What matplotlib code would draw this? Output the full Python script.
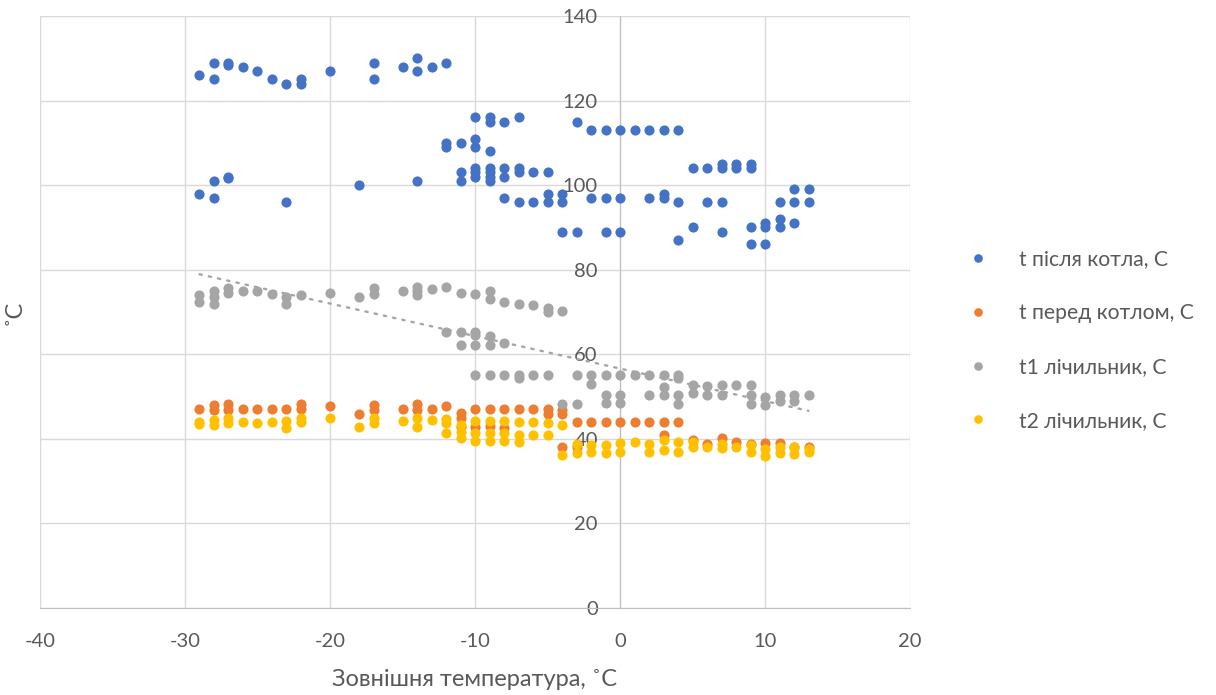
import matplotlib
matplotlib.use('Agg')
import matplotlib.pyplot as plt
import numpy as np

plt.rcParams['font.family'] = ['Lato', 'DejaVu Sans']
plt.rcParams['axes.unicode_minus'] = False

# t після котла
blue_x = [-29, -29, -28, -28, -28, -28, -27, -27, -27, -27, -26, -25, -24, -23, -23, -22, -22,
          -20, -18, -17, -17, -15, -14, -14, -14, -13, -12, -12, -12, -11, -11, -11,
          -10, -10, -10, -10, -10, -10, -9, -9, -9, -9, -9, -9, -9, -8, -8, -8, -8,
          -7, -7, -7, -7, -6, -6, -5, -5, -5, -4, -4, -4, -3, -3, -2, -2, -1, -1, -1,
          0, 0, 0, 1, 2, 2, 3, 3, 3, 4, 4, 4, 5, 5, 6, 6, 7, 7, 7, 7, 8, 8,
          9, 9, 9, 9, 10, 10, 10, 11, 11, 11, 12, 12, 12, 13, 13]
blue_y = [126, 98, 129, 125, 101, 97, 129, 128.5, 102, 101.7, 128, 127, 125, 124, 96, 125, 124,
          127, 100, 129, 125, 128, 130, 127, 101, 128, 129, 110, 109, 110, 103, 101,
          116, 111, 109, 104, 103, 102, 116, 115, 108, 104, 103, 102, 101, 115, 104, 102, 97,
          116, 104, 103, 96, 103, 96, 103, 98, 96, 98, 96, 89, 115, 89, 113, 97, 113, 97, 89,
          113, 97, 89, 113, 113, 97, 113, 98, 97, 113, 96, 87, 104, 90, 104, 96, 105, 104, 96, 89, 105, 104,
          105, 104, 90, 86, 91, 90, 86, 96, 92, 90, 99, 96, 91, 99, 96]

# t перед котлом
orange_x = [-29, -28, -28, -27, -27, -26, -25, -24, -23, -22, -22, -20, -18, -17, -17, -15,
            -14, -14, -13, -12, -11, -11, -11, -10, -10, -9, -9, -8, -8, -7, -6, -5, -5,
            -4, -4, -4, -3, -3, -2, -1, 0, 1, 2, 3, 3, 4, 5, 6, 7, 8, 9, 10, 11, 12, 13]
orange_y = [47, 48, 46.8, 48.2, 46.8, 47, 47, 47, 47, 48.2, 47, 47.8, 45.8, 48, 46.8, 47,
            48.2, 46.8, 47, 47.8, 46, 44.9, 42.9, 47, 42.9, 47, 43, 47, 42.5, 47, 47, 47, 45.8,
            46.8, 45.8, 38.1, 43.9, 38.1, 44, 44, 44, 44, 44, 44, 41, 44, 39.7, 38.9, 40.1, 39.2, 38.7, 39, 39, 38.1, 38.1]

# t1 лічильник
gray_x = [-29, -29, -28, -28, -28, -27, -27, -26, -25, -24, -23, -23, -22, -20, -18, -17, -17,
          -15, -14, -14, -14, -13, -12, -11, -10, -9, -9, -8, -7, -6, -5, -5, -4,
          -12, -11, -11, -10, -10, -10, -9, -9, -8,
          -10, -9, -8, -7, -7, -6, -5, -4, -3, -3, -2, -2, -1, -1, -1, 0, 0, 0, 1, 2, 2,
          3, 3, 3, 4, 4, 4, 4, 5, 5, 6, 6, 7, 7, 8, 9, 9, 9, 10, 10, 11, 11, 12, 12, 13]
gray_y = [74, 72.3, 75, 73.6, 71.8, 75.6, 74.6, 75, 75, 74.2, 73.6, 71.8, 74, 74.6, 73.6, 75.6, 74.2,
          75, 76, 75, 74, 75.5, 76, 74.5, 74.3, 75, 73, 72.4, 72, 71.7, 70.9, 70, 70.2,
          65.3, 65.3, 62.2, 65.3, 64.5, 62.2, 64.3, 62.2, 62.6,
          55.1, 55, 55, 55, 54.5, 55, 55, 48.2, 48.2, 55, 55, 53, 55, 50.4, 48.4, 55, 50.4, 48.4, 55, 55, 50.4,
          55, 52.2, 50.4, 55, 54.5, 50.4, 48.2, 52.7, 50.8, 52.5, 50.4, 52.7, 50.4, 52.7, 52.7, 50.4, 48.2,
          50, 48, 50.4, 49, 50.4, 49, 50.4]

# t2 лічильник
yellow_x = [-29, -29, -28, -28, -27, -27, -26, -25, -24, -23, -23, -22, -22, -20, -18, -17, -17,
            -15, -14, -14, -13, -12, -12, -12, -11, -11, -11, -10, -10, -10, -9, -9, -9,
            -8, -8, -8, -7, -7, -7, -6, -6, -5, -5, -4, -4, -3, -3, -2, -2, -1, -1,
            0, 0, 1, 2, 2, 3, 3, 4, 4, 5, 5, 6, 7, 7, 8, 9, 9, 10, 10, 11, 11, 12, 12, 13, 13]
yellow_y = [44.1, 43.5, 44.5, 43.3, 44.9, 43.7, 43.9, 43.7, 44, 44.2, 42.6, 44.9, 44.1, 44.9, 42.7, 44.9, 43.7,
            44.2, 44.9, 42.9, 44.5, 44.7, 43.7, 41.3, 43.3, 41.7, 40.1, 44.2, 41.3, 39.6, 44.2, 41.3, 39.6,
            44.2, 41.3, 39.6, 43.9, 40.9, 39.3, 44, 41, 43.7, 40.9, 43.3, 36.2, 38.9, 36.6, 38.5, 36.8, 38.5, 36.6,
            39, 37, 39.2, 38.9, 37, 39.7, 37.4, 39.3, 37, 39.3, 38, 38, 38.9, 37.8, 38, 38.5, 36.8, 37.6, 36,
            38, 36.6, 38, 36.4, 37.6, 36.8]

series = [
    (blue_x, blue_y, '#4472C4', 't після котла, C'),
    (orange_x, orange_y, '#ED7D31', 't перед котлом, C'),
    (gray_x, gray_y, '#A5A5A5', 't1 лічильник, C'),
    (yellow_x, yellow_y, '#FFC000', 't2 лічильник, C'),
]

txt = '#595959'
fig = plt.figure(figsize=(12.16, 6.95), dpi=100)
ax = fig.add_axes([40 / 1216, 87 / 695, 870 / 1216, 592 / 695])

for xs, ys, col, lab in series:
    ax.plot(xs, ys, 'o', color=col, markersize=7.3, markeredgewidth=0, label=lab, zorder=3)

# лінійний тренд для t1
k, b = np.polyfit(gray_x, gray_y, 1)
tx = np.array([min(gray_x), max(gray_x)])
ax.plot(tx, k * tx + b, color='#A5A5A5', lw=1.7, linestyle=(0, (1, 3)),
        dash_capstyle='round', zorder=4)

ax.set_xlim(-40, 20)
ax.set_ylim(0, 140)
ax.set_xticks(range(-40, 21, 10))
ax.set_yticks(range(0, 141, 20))
ax.grid(True, color='#D9D9D9', lw=1)
ax.set_axisbelow(True)

for s in ['top', 'right']:
    ax.spines[s].set_visible(False)
ax.spines['left'].set_position(('data', 0))
ax.spines['left'].set_color('#BFBFBF')
ax.spines['bottom'].set_color('#BFBFBF')
ax.spines['left'].set_zorder(2)
ax.tick_params(length=0, labelsize=14.5, labelcolor=txt)
ax.tick_params(axis='x', pad=18)
ax.tick_params(axis='y', pad=16)

fig.text(475 / 1216, 1 - 680 / 695, 'Зовнішня температура, ˚C', ha='center', va='center',
         fontsize=17, color=txt)
fig.text(14 / 1216, 1 - 312 / 695, '˚C', ha='center', va='center', rotation=90,
         fontsize=17, color=txt)

leg = ax.legend(loc='center left', bbox_to_anchor=(967 / 1216, 1 - 340 / 695),
                bbox_transform=fig.transFigure, frameon=False, fontsize=15.2,
                borderaxespad=0, borderpad=0, handlelength=1.0,
                labelspacing=1.6, handletextpad=1.45, markerscale=0.85)
for t in leg.get_texts():
    t.set_color(txt)

fig.savefig('out.png', dpi=100)
